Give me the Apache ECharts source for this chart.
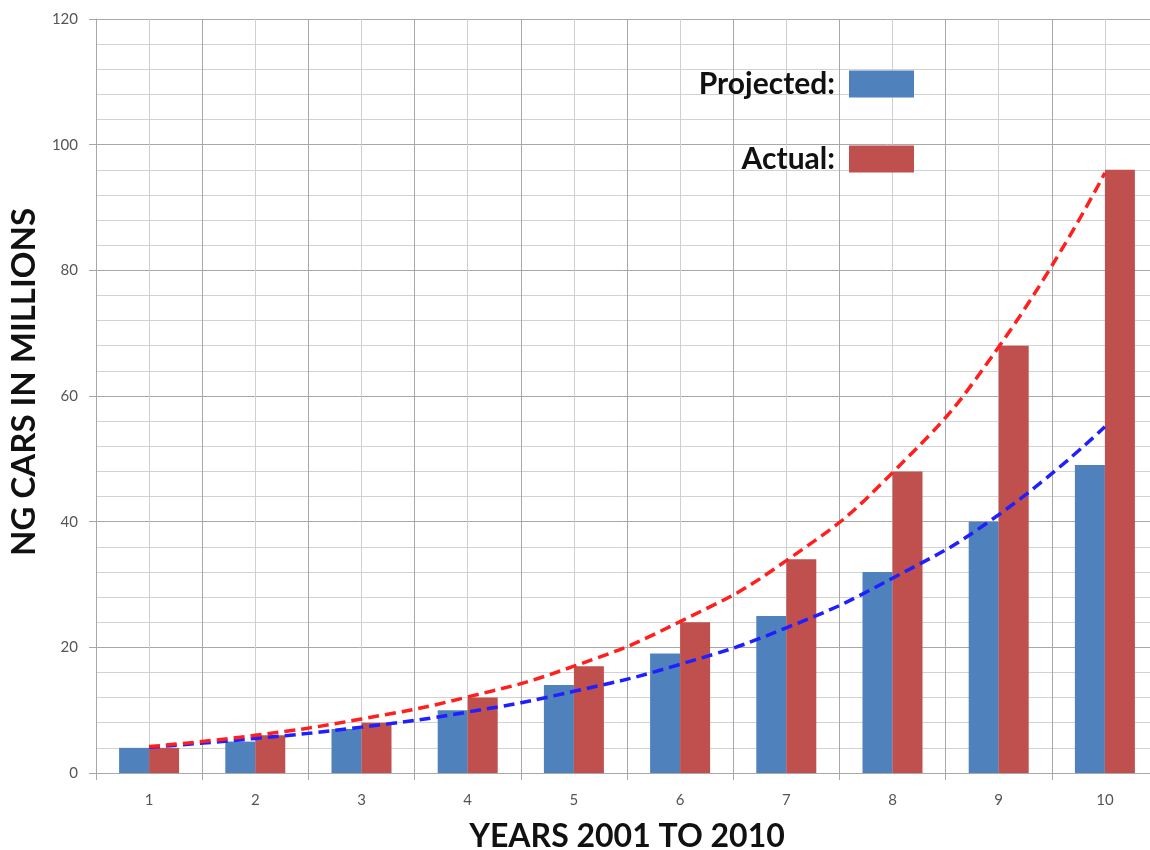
<!DOCTYPE html>
<html>
<head>
<meta charset="utf-8">
<script src="https://cdn.jsdelivr.net/npm/echarts@6/dist/echarts.min.js"></script>
<style>
html,body{margin:0;padding:0;background:#fff;}
#chart{width:1150px;height:850px;}
</style>
</head>
<body>
<div id="chart"></div>
<script>
const categories = ['1','2','3','4','5','6','7','8','9','10'];
const projected = [4, 5, 7, 10, 14, 19, 25, 32, 40, 49];
const actual = [4, 6, 8, 12, 17, 24, 34, 48, 68, 96];
const projectedTrend = [4.1, 5.5, 7.3, 9.7, 13.0, 17.3, 23.1, 31.0, 41.1, 55.1];
const actualTrend = [4.2, 6.0, 8.6, 12.1, 17.0, 24.1, 33.8, 47.8, 67.8, 95.5];
const yTicks = [0, 20, 40, 60, 80, 100, 120];

const chart = echarts.init(document.getElementById('chart'), null, {renderer: 'canvas'});
const font = 'Lato, "Open Sans", sans-serif';
chart.setOption({
  animation: false,
  backgroundColor: '#ffffff',
  grid: {left: 96, top: 19, width: 1062, height: 754, outerBoundsMode: 'none', containLabel: false},
  legend: {
    data: ['Projected', 'Actual'],
    orient: 'vertical',
    align: 'right',
    right: 231,
    top: 64,
    itemWidth: 65,
    itemHeight: 27,
    itemGap: 45,
    icon: 'rect',
    formatter: '{name}:',
    textStyle: {fontFamily: font, fontWeight: 'bold', fontSize: 30, lineHeight: 27, color: '#111', padding: [0, 9, 0, 0]}
  },
  xAxis: [
    {
      type: 'category',
      data: categories,
      boundaryGap: true,
      name: 'YEARS 2001 TO 2010',
      nameLocation: 'middle',
      nameGap: 48,
      nameTextStyle: {fontFamily: font, fontWeight: 'bold', fontSize: 32, color: '#111'},
      axisLine: {lineStyle: {color: '#a8a8a8', width: 1}},
      axisTick: {show: true, length: 7, lineStyle: {color: '#a8a8a8'}},
      axisLabel: {fontFamily: font, fontSize: 15, color: '#555', margin: 20},
      splitLine: {show: true, lineStyle: {color: '#a8a8a8', width: 1}}
    },
    {
      type: 'value',
      min: 0,
      max: 20,
      interval: 2,
      show: true,
      position: 'top',
      axisLine: {show: false},
      axisTick: {show: false},
      axisLabel: {show: false},
      splitLine: {show: false},
      minorTick: {show: false, splitNumber: 2},
      minorSplitLine: {show: true, lineStyle: {color: '#cfcfcf', width: 1}}
    }
  ],
  yAxis: {
    type: 'value',
    min: yTicks[0],
    max: yTicks[yTicks.length - 1],
    interval: 20,
    name: 'NG CARS IN MILLIONS',
    nameLocation: 'middle',
    nameRotate: 90,
    nameGap: 47,
    nameTextStyle: {fontFamily: font, fontWeight: 'bold', fontSize: 33, color: '#111', padding: [0, 0, 0, 28]},
    axisLine: {show: true, lineStyle: {color: '#a8a8a8'}},
    axisTick: {show: true, length: 7, lineStyle: {color: '#a8a8a8'}},
    axisLabel: {fontFamily: font, fontSize: 15, color: '#555', margin: 18},
    splitLine: {show: true, lineStyle: {color: '#a8a8a8', width: 1}},
    minorTick: {show: false, splitNumber: 5},
    minorSplitLine: {show: true, lineStyle: {color: '#d2d2d2', width: 1}}
  },
  series: [
    {name: 'Projected', type: 'bar', data: projected, barWidth: 30, barGap: '0%', itemStyle: {color: '#4F81BD'}, z: 2},
    {name: 'Actual', type: 'bar', data: actual, barWidth: 30, barGap: '0%', itemStyle: {color: '#C0504D'}, z: 2},
    {name: 'Projected trend', type: 'line', data: projectedTrend, smooth: true, symbol: 'none', z: 5,
     lineStyle: {color: '#1f1fff', width: 3.5, type: [11, 6]}},
    {name: 'Actual trend', type: 'line', data: actualTrend, smooth: true, symbol: 'none', z: 5,
     lineStyle: {color: '#ff1f1f', width: 3.5, type: [11, 6]}}
  ]
});
</script>
</body>
</html>
